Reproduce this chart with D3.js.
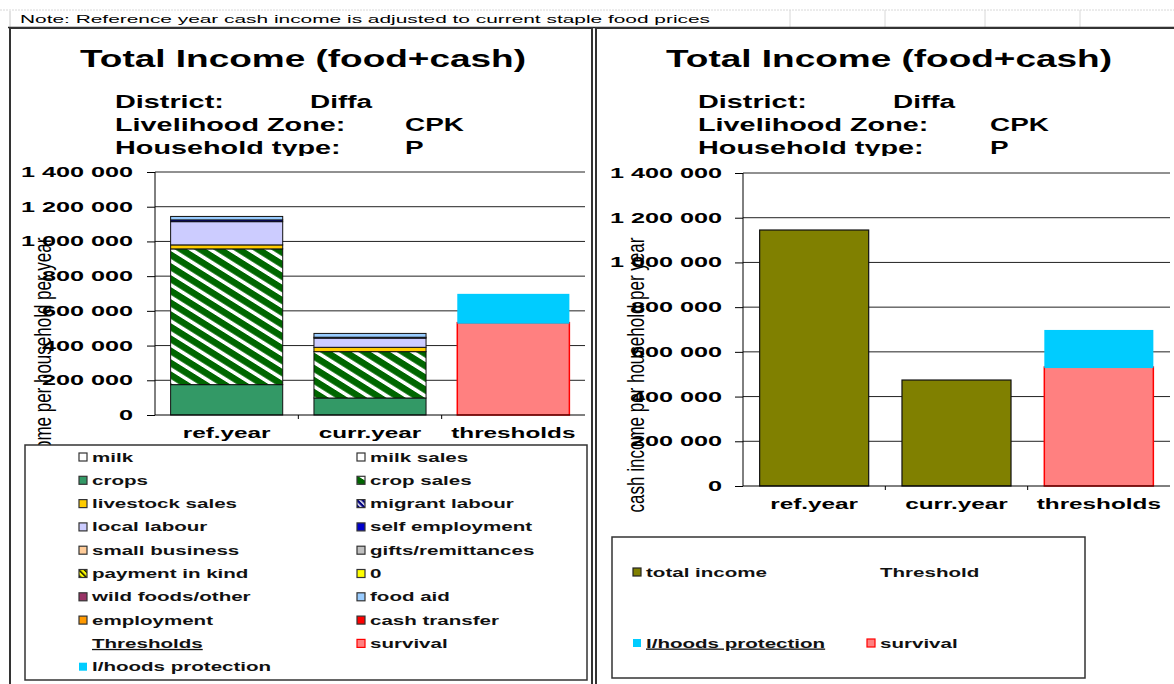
<!DOCTYPE html>
<html>
<head>
<meta charset="utf-8">
<script src="https://cdn.jsdelivr.net/npm/d3@7"></script>
<style>
  body { margin: 0; background: #fff; }
  svg { display: block; font-family: Arial, "Liberation Sans", sans-serif; }
</style>
</head>
<body>
<svg id="chart" width="1174" height="684"></svg>
<script>
/** data **/
var categories = ["ref.year", "curr.year", "thresholds"];
var sources = ["milk", "milk sales", "crops", "crop sales", "livestock sales", "migrant labour",
    "local labour", "self employment", "small business", "gifts/remittances", "payment in kind", "0",
    "wild foods/other", "food aid", "employment", "cash transfer"];
var refYear  = [0, 0, 175000, 782000, 23000, 0, 134000, 10000, 0, 0, 0, 0, 0, 20000, 0, 0];
var currYear = [0, 0,  98000, 267000, 25000, 0,  53000,  5000, 0, 0, 0, 0, 0, 22000, 0, 0];
var thresholdNames  = ["survival", "l/hoods protection"];
var thresholdValues = [532000, 166000];
var totalIncome = [1145000, 474000];
var yTicks = [0, 200000, 400000, 600000, 800000, 1000000, 1200000, 1400000];

// fills (style only)
var sourceFills = ["#ffffff", "#ffffff", "#339966", "url(#hatchGreen)", "#ffcc00", "url(#hatchNavy)",
    "#ccccff", "#0000cc", "#ffcc99", "#c0c0c0", "url(#hatchYellow)", "#ffff00",
    "#993366", "#99ccff", "#ff9900", "#ff0000"];
var thresholdFills = ["#ff8080", "#00ccff"];
var totalFill = "#808000";

var svg = d3.select("#chart");
var fmt = d3.formatLocale({decimal: ".", thousands: " ", grouping: [3], currency: ["", ""]}).format(",d");

// the source image is stretched sideways, so widen the text the same way
function stretch(sel, k) {
    sel.each(function() {
        var w = this.getComputedTextLength();
        d3.select(this).attr("textLength", w * k).attr("lengthAdjust", "spacingAndGlyphs");
    });
}
function fit(sel, w) {
    sel.attr("textLength", w).attr("lengthAdjust", "spacingAndGlyphs");
}

/* patterns */
var defs = svg.append("defs");
function hatch(id, bg, fg, size, lw, tf) {
    var p = defs.append("pattern").attr("id", id)
        .attr("patternUnits", "userSpaceOnUse")
        .attr("width", size).attr("height", size)
        .attr("patternTransform", tf);
    p.append("rect").attr("width", size).attr("height", size).attr("fill", bg);
    p.append("rect").attr("width", lw).attr("height", size).attr("fill", fg);
}
hatch("hatchGreen", "#006600", "#ffffff", 8.5, 3, "scale(1.6,1) rotate(-45)");
hatch("hatchYellow", "#ffff00", "#000000", 4, 1.5, "rotate(-45)");
hatch("hatchNavy", "#000080", "#ffffff", 4, 1.5, "rotate(-45)");

/* spreadsheet bits behind the charts */
svg.append("line").attr("x1", 0).attr("x2", 1174).attr("y1", 10).attr("y2", 10)
    .attr("stroke", "#d8d8d8").attr("stroke-dasharray", "2,1");
[790, 885, 985, 1080].forEach(function(gx) {
    svg.append("line").attr("x1", gx).attr("x2", gx).attr("y1", 10).attr("y2", 27)
        .attr("stroke", "#d8d8d8");
});
svg.append("line").attr("x1", 10).attr("x2", 10).attr("y1", 11).attr("y2", 28).attr("stroke", "#c8c8c8");
svg.append("text").attr("x", 20).attr("y", 23)
    .style("font-size", "11px").attr("fill", "#000")
    .text("Note: Reference year cash income is adjusted to current staple food prices")
    .call(fit, 690);
svg.append("line").attr("x1", 8).attr("x2", 1174).attr("y1", 27.5).attr("y2", 27.5)
    .attr("stroke", "#222").attr("stroke-width", 1.5);

/* chart boxes */
svg.append("rect").attr("x", 10).attr("y", 28).attr("width", 582).attr("height", 700)
    .attr("fill", "#fff").attr("stroke", "#333").attr("stroke-width", 2);
svg.append("rect").attr("x", 596).attr("y", 28).attr("width", 620).attr("height", 700)
    .attr("fill", "#fff").attr("stroke", "#333").attr("stroke-width", 2);

function header(cx, lx, vx1, vx2) {
    svg.append("text").attr("x", cx).attr("y", 67).attr("text-anchor", "middle")
        .style("font-size", "23px").style("font-weight", "bold")
        .text("Total Income (food+cash)").call(fit, 446);
    var rows = [["District:", "Diffa", vx1], ["Livelihood Zone:", "CPK", vx2], ["Household type:", "P", vx2]];
    rows.forEach(function(r, i) {
        var yy = 108 + i * 23;
        svg.append("text").attr("x", lx).attr("y", yy)
            .style("font-size", "18px").style("font-weight", "bold").text(r[0]).call(stretch, 1.6);
        svg.append("text").attr("x", r[2]).attr("y", yy)
            .style("font-size", "18px").style("font-weight", "bold").text(r[1]).call(stretch, 1.55);
    });
}
header(303, 115, 310, 405);
header(889, 698, 893, 990);

// plot areas clip the bottom of the header
svg.append("rect").attr("x", 12).attr("y", 156).attr("width", 578).attr("height", 290).attr("fill", "#fff");
svg.append("rect").attr("x", 598).attr("y", 156).attr("width", 576).attr("height", 380).attr("fill", "#fff");

function axes(x, y, left, right, axisLabelX) {
    // gridlines
    svg.append("g").selectAll("line").data(yTicks.slice(1)).enter().append("line")
        .attr("x1", left).attr("x2", right)
        .attr("y1", function(d) { return y(d); }).attr("y2", function(d) { return y(d); })
        .attr("stroke", "#222").attr("stroke-width", 1);

    // axis title (partly hidden by the legend on the left panel)
    svg.append("text")
        .attr("transform", "translate(" + axisLabelX + ",375) scale(1.45,1) rotate(-90)")
        .attr("text-anchor", "middle").attr("dy", "0.35em")
        .style("font-size", "17px")
        .text("cash income per household per year");
}

function finishAxes(x, y, left, right, labelPad) {
    var ya = svg.append("g").attr("transform", "translate(" + left + ",0)")
        .call(d3.axisLeft(y).tickValues(yTicks).tickSize(8).tickPadding(labelPad).tickFormat(fmt));
    ya.select(".domain").attr("d", "M0," + y(1400000) + "V" + y(0)).attr("stroke", "#000");
    ya.selectAll(".tick line").attr("stroke", "#000");
    ya.selectAll(".tick text").style("font-size", "14px").style("font-weight", "bold")
        .attr("fill", "#000").style("font-family", "Arial, 'Liberation Sans', sans-serif").call(stretch, 1.8);

    svg.append("line").attr("x1", left).attr("x2", right).attr("y1", y(0)).attr("y2", y(0))
        .attr("stroke", "#000");
    var gap = (x.step() - x.bandwidth()) / 2;
    categories.slice(1).forEach(function(c) {
        var bx = x(c) - gap;
        svg.append("line").attr("x1", bx).attr("x2", bx).attr("y1", y(0)).attr("y2", y(0) + 4)
            .attr("stroke", "#000");
    });
    svg.selectAll(null).data(categories).enter().append("text")
        .attr("x", function(c) { return x(c) + x.bandwidth() / 2; })
        .attr("y", y(0) + 23).attr("text-anchor", "middle")
        .style("font-size", "15px").style("font-weight", "bold")
        .text(function(c) { return c; }).call(stretch, 1.62);
}

function thresholdBar(x, y) {
    var st = d3.stack().keys(d3.range(thresholdNames.length))([thresholdValues]);
    st.forEach(function(s, k) {
        var d = s[0];
        svg.append("rect")
            .attr("x", x("thresholds")).attr("width", x.bandwidth())
            .attr("y", y(d[1])).attr("height", y(d[0]) - y(d[1]) + (k === 1 ? 1 : 0))
            .attr("fill", thresholdFills[k])
            .attr("stroke", k === 0 ? "#ff0000" : "none").attr("stroke-width", 1.5);
    });
}

/** LEFT PANEL: stacked income by source **/
var xL = d3.scaleBand().domain(categories).range([155, 585]).paddingInner(0.218).paddingOuter(0.109);
var yL = d3.scaleLinear().domain([0, 1400000]).range([415, 172]);
axes(xL, yL, 155, 585, 42);

var stacked = d3.stack().keys(d3.range(sources.length))([refYear, currYear]);
stacked.forEach(function(s, k) {
    svg.append("g").selectAll("rect").data(s.filter(function(d) { return d[1] - d[0] > 0; }))
        .enter().append("rect")
        .attr("x", function(d) { return xL(categories[s.indexOf(d)]); })
        .attr("width", xL.bandwidth())
        .attr("y", function(d) { return yL(d[1]); })
        .attr("height", function(d) { return yL(d[0]) - yL(d[1]); })
        .attr("fill", sourceFills[k])
        .attr("stroke", "#111").attr("stroke-width", 1);
});
thresholdBar(xL, yL);
finishAxes(xL, yL, 155, 585, 14);

/** RIGHT PANEL: total income **/
var xR = d3.scaleBand().domain(categories).range([743, 1170]).paddingInner(0.234).paddingOuter(0.117);
var yR = d3.scaleLinear().domain([0, 1400000]).range([486, 173]);
axes(xR, yR, 743, 1170, 635);

svg.append("g").selectAll("rect").data(totalIncome).enter().append("rect")
    .attr("x", function(d, i) { return xR(categories[i]); })
    .attr("width", xR.bandwidth())
    .attr("y", function(d) { return yR(d); })
    .attr("height", function(d) { return yR(0) - yR(d); })
    .attr("fill", totalFill).attr("stroke", "#111").attr("stroke-width", 1.2);
thresholdBar(xR, yR);
finishAxes(xR, yR, 743, 1170, 13);

/** LEGENDS **/
function swatch(g, sx, sy, fill, stroke) {
    g.append("rect").attr("x", sx).attr("y", sy - 4).attr("width", 8).attr("height", 8)
        .attr("fill", fill).attr("stroke", stroke).attr("stroke-width", 1.2);
}
function legendText(g, tx, ty, txt, underline) {
    var t = g.append("text").attr("x", tx).attr("y", ty + 4.5)
        .style("font-size", "13px").style("font-weight", "bold").attr("fill", "#111")
        .text(txt).call(stretch, 1.58);
    if (underline) t.style("text-decoration", "underline");
}

var legL = svg.append("g");
legL.append("rect").attr("x", 25).attr("y", 445).attr("width", 562).attr("height", 235)
    .attr("fill", "#fff").attr("stroke", "#333").attr("stroke-width", 1.5);
var itemsL = sources.map(function(s, i) { return {name: s, fill: sourceFills[i], stroke: "#333"}; });
itemsL.push({name: "Thresholds", heading: true});
itemsL.push({name: thresholdNames[0], fill: thresholdFills[0], stroke: "#ff0000"});
itemsL.push({name: thresholdNames[1], fill: thresholdFills[1], stroke: "none"});
itemsL.forEach(function(it, i) {
    var col = i % 2, row = Math.floor(i / 2);
    var ly = 457 + row * 23.3;
    var sx = col === 0 ? 79 : 357;
    if (!it.heading) swatch(legL, sx, ly, it.fill, it.stroke);
    legendText(legL, sx + 13, ly, it.name, it.heading);
});

var legR = svg.append("g");
legR.append("rect").attr("x", 612).attr("y", 537).attr("width", 473).attr("height", 141)
    .attr("fill", "#fff").attr("stroke", "#333").attr("stroke-width", 1.5);
swatch(legR, 633, 572, totalFill, "#222");
legendText(legR, 646, 572, "total income", false);
legendText(legR, 880, 572, "Threshold", false);
swatch(legR, 633, 643, thresholdFills[1], "none");
legendText(legR, 646, 643, thresholdNames[1], true);
swatch(legR, 867, 643, thresholdFills[0], "#ff0000");
legendText(legR, 880, 643, thresholdNames[0], false);
</script>
</body>
</html>
